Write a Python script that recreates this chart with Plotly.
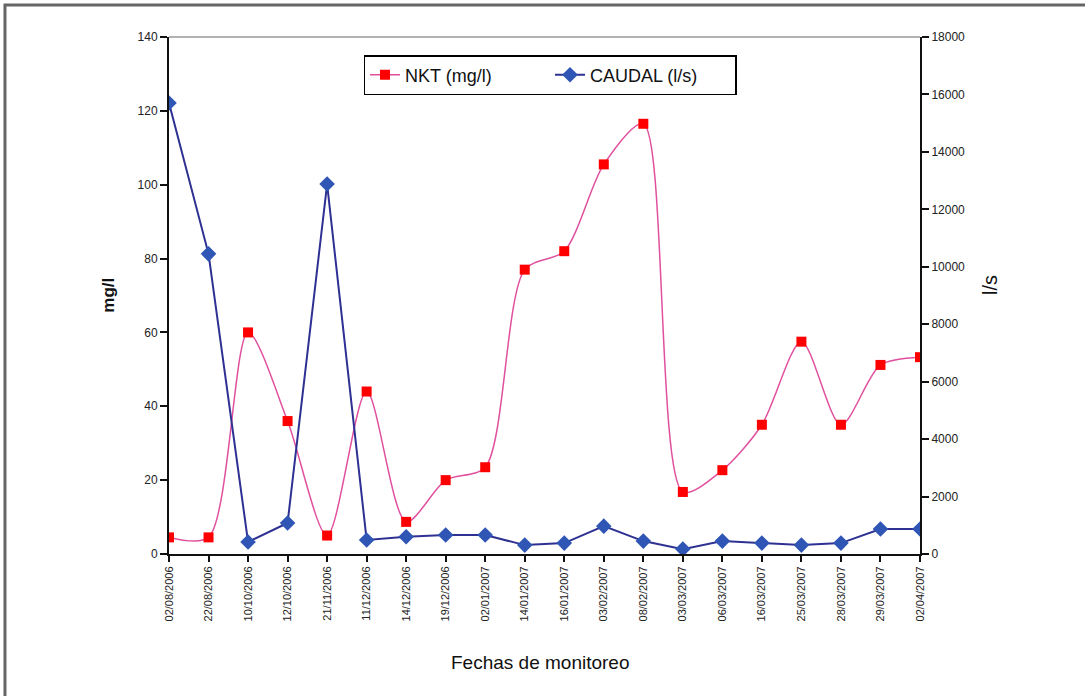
import plotly.graph_objects as go

fechas = ["02/08/2006", "22/08/2006", "10/10/2006", "12/10/2006", "21/11/2006",
          "11/12/2006", "14/12/2006", "19/12/2006", "02/01/2007", "14/01/2007",
          "16/01/2007", "03/02/2007", "08/02/2007", "03/03/2007", "06/03/2007",
          "16/03/2007", "25/03/2007", "28/03/2007", "29/03/2007", "02/04/2007"]

nkt_mgl = [4.5, 4.5, 60, 36, 5, 44, 8.7, 20, 23.5, 77,
           82, 105.5, 116.5, 16.8, 22.7, 35, 57.5, 35, 51.2, 53.3]

caudal_ls = [15700, 10450, 420, 1080, 12880, 490, 600, 660, 660, 310,
             380, 970, 450, 170, 450, 380, 310, 380, 870, 870]

fig = go.Figure()

fig.add_trace(go.Scatter(
    x=fechas, y=nkt_mgl, name="NKT (mg/l)", mode="lines+markers",
    line=dict(color="#e0509e", width=1.5, shape="spline", smoothing=0.8),
    marker=dict(symbol="square", size=10, color="#ff0000"),
    yaxis="y",
))

fig.add_trace(go.Scatter(
    x=fechas, y=caudal_ls, name="CAUDAL (l/s)", mode="lines+markers",
    line=dict(color="#2e3192", width=2),
    marker=dict(symbol="diamond", size=12, color="#2f55b5"),
    yaxis="y2",
))

tick_font = dict(family="Liberation Sans, Arial", size=12, color="#222")

fig.update_layout(
    width=1085, height=696,
    margin=dict(l=169, r=165, t=37, b=142),
    paper_bgcolor="white", plot_bgcolor="white",
    showlegend=True,
    legend=dict(
        orientation="h", x=0.259, y=0.965, xanchor="left", yanchor="top",
        bordercolor="#000", borderwidth=1.5, bgcolor="white",
        font=dict(family="Liberation Sans, Arial", size=18, color="#111"),
        entrywidth=140, entrywidthmode="pixels", tracegroupgap=0,
    ),
    xaxis=dict(
        type="category", range=[0, len(fechas) - 1],
        showline=True, linecolor="#111", linewidth=2,
        ticks="outside", ticklen=6, tickcolor="#111", tickwidth=1.5,
        tickangle=-90, tickfont=dict(family="Liberation Sans, Arial", size=11, color="#222"),
        showgrid=False, zeroline=False,
    ),
    yaxis=dict(
        range=[0, 140], dtick=20,
        showline=True, linecolor="#111", linewidth=2,
        ticks="outside", ticklen=7, tickcolor="#111", tickwidth=1.5,
        tickfont=tick_font, showgrid=False, zeroline=False,
    ),
    yaxis2=dict(
        range=[0, 18000], dtick=2000, tickformat="d", overlaying="y", side="right",
        showline=True, linecolor="#111", linewidth=2,
        ticks="outside", ticklen=7, tickcolor="#111", tickwidth=1.5,
        tickfont=tick_font, showgrid=False, zeroline=False,
    ),
    shapes=[
        # outer frame of the figure
        dict(type="rect", xref="paper", yref="paper",
             x0=-0.2184, x1=1.24, y0=-0.29, y1=1.062,
             line=dict(color="#666", width=3)),
        # top edge of the plotting area
        dict(type="line", xref="paper", yref="paper",
             x0=0, x1=1, y0=1, y1=1, line=dict(color="#999", width=1.5)),
    ],
    annotations=[
        dict(text="<b>mg/l</b>", xref="paper", yref="paper", x=-0.081, y=0.5,
             xanchor="center", yanchor="middle",
             textangle=-90, showarrow=False,
             font=dict(family="Liberation Sans, Arial", size=17, color="#111")),
        dict(text="l/s", xref="paper", yref="paper", x=1.093, y=0.52,
             xanchor="center", yanchor="middle",
             textangle=-90, showarrow=False,
             font=dict(family="Liberation Sans, Arial", size=20, color="#111")),
        dict(text="Fechas de monitoreo", xref="paper", yref="paper", x=0.495, y=-0.21,
             showarrow=False, yanchor="middle",
             font=dict(family="Liberation Sans, Arial", size=19, color="#111")),
    ],
)

fig.write_html("out.html")
